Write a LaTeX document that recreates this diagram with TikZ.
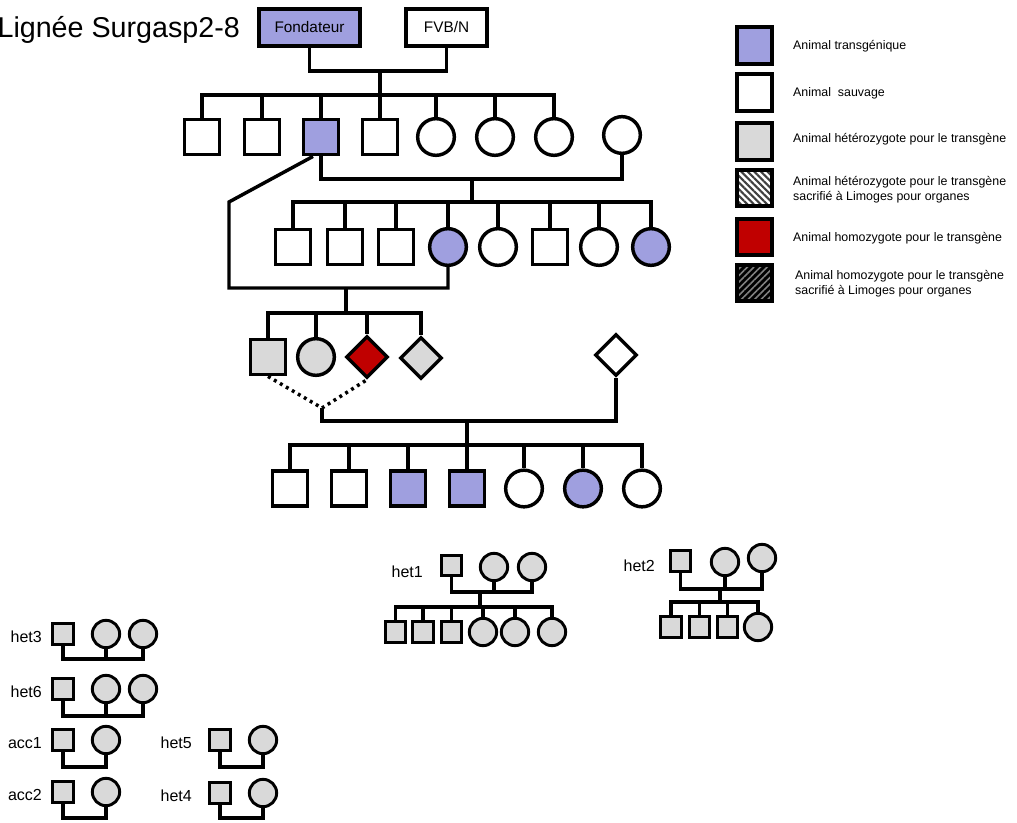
\documentclass[tikz,border=0pt]{standalone}
\usepackage{fontspec}
\setmainfont{Liberation Sans}
\usepackage{tikz}
\usetikzlibrary{shapes.geometric,patterns.meta,calc}
\definecolor{tg}{RGB}{159,159,223}
\definecolor{het}{RGB}{217,217,217}
\definecolor{hom}{RGB}{192,0,0}

\begin{document}
\begin{tikzpicture}[x=0.75pt,y=-0.75pt,line width=2.6pt,
  sq/.style={draw,line width=2.6pt,minimum size=26.5pt,inner sep=0pt},
  ci/.style={circle,draw,line width=2.6pt,minimum size=27.5pt,inner sep=0pt},
  di/.style={diamond,draw,line width=2.6pt,minimum size=31.5pt,inner sep=0pt},
  ssq/.style={draw,line width=2.2pt,minimum size=15.5pt,inner sep=0pt,fill=het},
  sci/.style={circle,draw,line width=2.2pt,minimum size=20.5pt,inner sep=0pt,fill=het},
  top/.style={draw,line width=2.6pt,minimum height=28pt,inner sep=0pt,font=\fontsize{11.5}{13}\selectfont},
  key/.style={draw,line width=3pt,minimum width=26.5pt,minimum height=27.5pt,inner sep=0pt},
  keytxt/.style={anchor=west,align=left,font=\fontsize{9.3}{11}\selectfont},
  fam/.style={anchor=east,font=\fontsize{12}{14}\selectfont},
  dots/.style={line width=2.6pt,dash pattern=on 2.2pt off 3pt}]
\useasboundingbox (0,0) rectangle (1017,823);
% founders
\node[anchor=east,font=\fontsize{21.5}{24}\selectfont] (title) at (246,30) {Lignée Surgasp2-8};
\node[top,fill=tg,minimum width=76pt] (f0) at (309.5,27.5) {Fondateur};
\node[top,fill=white,minimum width=61pt] (f1) at (446.5,27.5) {FVB/N};
\coordinate (m1) at (380,71);
\coordinate (j1) at (380,95);
\draw (f0) |- (m1) -| (f1);
\draw (m1) -- (j1);
% F1
\foreach \i/\x/\s/\c in {1/202/sq/white,2/262/sq/white,3/321/sq/tg,4/380/sq/white,5/436/ci/white,6/495/ci/white,7/554/ci/white}
  \node[\s,fill=\c] (a\i) at (\x,137) {};
\node[ci,fill=white] (a8) at (622,135) {};
\foreach \i in {1,...,7} \draw (j1) -| (a\i);
% F2
\coordinate (m2) at (472,179);
\coordinate (j2) at (472,202);
\draw (a3) |- (m2) -| (a8);
\draw (m2) -- (j2);
\foreach \i/\x/\s/\c in {1/293/sq/white,2/345/sq/white,3/396/sq/white,4/448/ci/tg,5/498/ci/white,6/550/sq/white,7/599/ci/white,8/651/ci/tg}
  \node[\s,fill=\c] (b\i) at (\x,247) {};
\foreach \i in {1,...,8} \draw (j2) -| (b\i);
% F3: back-cross with the F1 male
\coordinate (k1) at (229,202);
\coordinate (m3) at (346,288);
\coordinate (j3) at (346,313);
\draw ($(a3.south)+(-8,0)$) -- (k1) |- (m3) -| (b4);
\draw (m3) -- (j3);
\node[sq,fill=het] (c1) at (268,357) {};
\node[ci,fill=het] (c2) at (316,357) {};
\node[di,fill=hom] (c3) at (367,357) {};
\node[di,fill=het] (c4) at (421,358) {};
\node[di,fill=white] (c5) at (616,355) {};
\foreach \i in {1,...,4} \draw (j3) -| (c\i);
% F4
\coordinate (k2) at (322,408);
\coordinate (m4) at (467,421);
\coordinate (j4) at (467,445);
\draw[dots] (c1.south) -- (k2) -- (c3.south);
\draw (k2) |- (m4) -| (c5);
\draw (m4) -- (j4);
\foreach \i/\x/\s/\c in {1/290/sq/white,2/349/sq/white,3/408/sq/tg,4/467/sq/tg,5/524/ci/white,6/583/ci/tg,7/642/ci/white}
  \node[\s,fill=\c] (d\i) at (\x,488.5) {};
\foreach \i in {1,...,7} \draw (j4) -| (d\i);
% legend
\foreach \i/\y/\c in {1/45.5/tg,2/92.5/white,3/141.5/het,5/237/hom}
  \node[key,fill=\c] (key\i) at (754.5,\y) {};
\node[key,pattern={Lines[angle=-45,distance=3.5pt,line width=1.6pt]},pattern color=black!75] (key4) at (754.5,188) {};
\node[key,preaction={fill=black},pattern={Lines[angle=45,distance=3.5pt,line width=1.2pt]},pattern color=gray] (key6) at (754.5,283) {};
\node[keytxt] (t1) at (787,46) {Animal transgénique};
\node[keytxt] (t2) at (787,93) {Animal\ \ sauvage};
\node[keytxt] (t3) at (787,139) {Animal hétérozygote pour le transgène};
\node[keytxt] (t4) at (787,190) {Animal hétérozygote pour le transgène\\sacrifié à Limoges pour organes};
\node[keytxt] (t5) at (787,238) {Animal homozygote pour le transgène};
\node[keytxt] (t6) at (789,284) {Animal homozygote pour le transgène\\sacrifié à Limoges pour organes};
% het1
\node[fam] (l1) at (429,572) {het1};
\node[ssq] (h1p) at (451.5,565.5) {};
\node[sci] (h1a) at (494,567) {};
\node[sci] (h1b) at (532,567) {};
\coordinate (h1m) at (480,592);
\coordinate (h1j) at (480,607);
\draw (h1p) |- (h1m) -| (h1b);
\draw (h1a) -- (h1a |- h1m);
\draw (h1m) -- (h1j);
\foreach \i/\x/\s in {1/395.5/ssq,2/423/ssq,3/451.5/ssq,4/483/sci,5/515/sci,6/552/sci}
  \node[\s] (h1c\i) at (\x,632) {};
\foreach \i in {1,...,6} \draw (h1j) -| (h1c\i);
% het2
\node[fam] (l2) at (661,566) {het2};
\node[ssq] (h2p) at (680.5,561) {};
\node[sci] (h2a) at (725,562) {};
\node[sci] (h2b) at (762,558) {};
\coordinate (h2m) at (720,589);
\coordinate (h2j) at (720,602);
\draw (h2p) |- (h2m) -| (h2b);
\draw (h2a) -- (h2a |- h2m);
\draw (h2m) -- (h2j);
\foreach \i/\x/\s in {1/671/ssq,2/699.5/ssq,3/727.5/ssq,4/758/sci}
  \node[\s] (h2c\i) at (\x,627) {};
\foreach \i in {1,...,4} \draw (h2j) -| (h2c\i);
% trios
\foreach \n/\y/\b in {het3/634/659,het6/689/716} {
  \node[fam] (\n) at (48,{\y+3}) {\n};
  \node[ssq] (\n-p) at (63,\y) {};
  \node[sci] (\n-a) at (106,\y) {};
  \node[sci] (\n-b) at (143,\y) {};
  \coordinate (\n-m) at (106,\b);
  \draw (\n-p) |- (\n-m) -| (\n-b);
  \draw (\n-a) -- (\n-m);
}
% couples
\foreach \n/\x/\y/\b/\lx in {acc1/63/740/767/48,acc2/63/792/818/48,het5/220/740/767/198,het4/220/793/818/198} {
  \node[fam] (\n) at (\lx,{\y+3}) {\n};
  \node[ssq] (\n-p) at (\x,\y) {};
  \node[sci] (\n-a) at ({\x+43},\y) {};
  \coordinate (\n-m) at ({\x+20},\b);
  \draw (\n-p) |- (\n-m) -| (\n-a);
}
\end{tikzpicture}
\end{document}
